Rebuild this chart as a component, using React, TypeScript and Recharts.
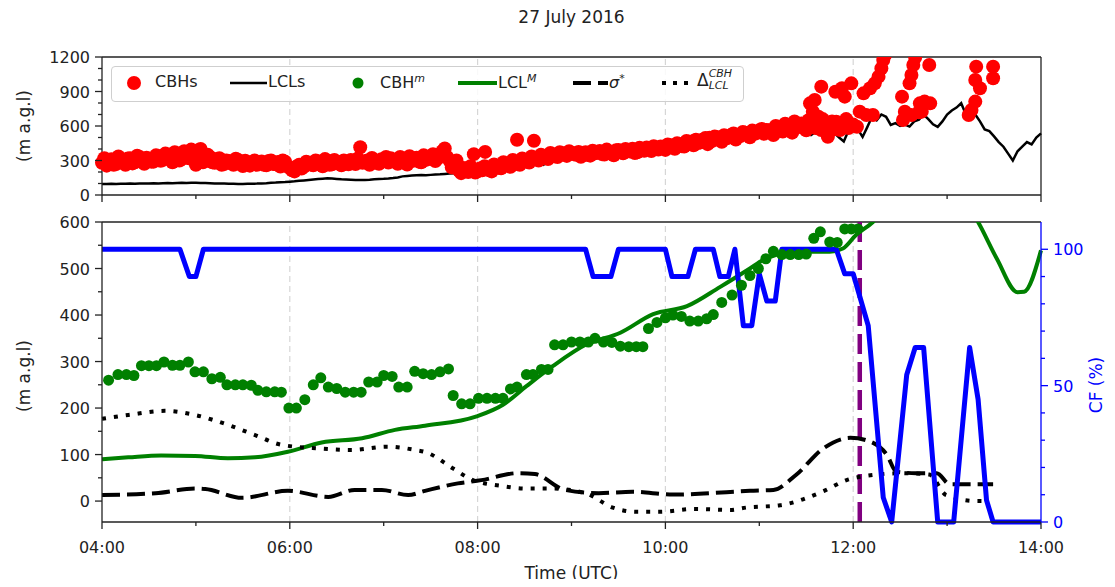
import React from 'react';
import { ComposedChart, Line, Scatter, XAxis, YAxis, ReferenceLine } from 'recharts';

const FONT = '"DejaVu Sans", Verdana, sans-serif';
const INK = '#222';
const BLUE = '#0000ff';
const GREEN = '#008000';

// axis ticks (hours UTC and heights)
const hourTicks = [4, 5, 6, 7, 8, 9, 10, 11, 12, 13, 14];
const gridHours = [6, 8, 10, 12];
const topTicks = [0, 100, 200, 300, 400, 500, 600, 700, 800, 900, 1000, 1100, 1200];
const bottomTicks = [0, 50, 100, 150, 200, 250, 300, 350, 400, 450, 500, 550, 600];
const cfTicks = [0, 10, 20, 30, 40, 50, 60, 70, 80, 90, 100];
const onsetHour = 12.07;

// CBHs: dense band sampled every 3 min from 04:00 to 12:00
const cbhBandStart = 4;
const cbhBandStep = 0.05;
const cbhBand = [
  280, 255, 310, 270, 300, 262, 320, 285, 330, 272, 312,
  290, 340, 305, 332, 285, 350, 312, 345, 395, 262, 400, 305,
  330, 280, 320, 270, 295, 262, 305, 252, 285, 270, 262, 292, 258, 300, 268, 248, 290, 235,
  205, 262, 245, 280, 258, 292, 250, 300, 268, 290, 258, 282, 305, 270, 415, 292, 262, 305, 272, 298,
  282, 305, 272, 315, 265, 295, 325, 285, 305, 335, 295, 350, 405,
  300, 250, 215, 235, 200, 215, 205,
  215, 240, 205, 250, 232, 268, 245, 290, 262, 300, 282, 318, 300, 338, 312, 348, 330, 362, 340, 368,
  350, 332, 372, 342, 362, 382, 352, 372, 345, 392, 362, 382, 402, 372, 392, 412, 382, 402, 422, 392,
  432, 402, 442, 422, 462, 432, 452, 482, 442, 472, 502, 462, 492, 522, 482, 512, 542, 502, 532, 562,
  532, 562, 522, 582, 552, 602, 542, 592, 622, 562, 612, 582, 642, 592, 622, 572, 602, 632, 582, 612,
];
// second row of the band, 1.5 min later
const cbhBand2Start = 4.025;
const cbhBand2 = [
  320, 300, 262, 335, 290, 318, 275, 342, 300, 325, 290,
  345, 298, 360, 310, 372, 300, 380, 320, 360, 390, 285, 350,
  285, 312, 262, 300, 275, 315, 270, 298, 255, 300, 278, 262, 295, 270, 288, 300, 250, 215,
  250, 230, 290, 265, 300, 270, 312, 262, 305, 275, 300, 268, 290, 318, 280, 300, 322, 280, 310, 330,
  320, 288, 330, 300, 338, 310, 290, 345, 312, 355, 320, 380, 330,
  240, 300, 190, 225, 250, 195, 230,
  250, 215, 265, 238, 285, 255, 305, 270, 318, 290, 335, 310, 350, 322, 365, 338, 372, 350, 380, 355,
  375, 360, 348, 385, 370, 355, 395, 368, 390, 372, 400, 378, 365, 410, 385, 400, 425, 395, 410, 440,
  415, 450, 425, 470, 445, 480, 458, 495, 462, 508, 480, 520, 500, 535, 510, 548, 525, 560, 540, 575,
  565, 545, 600, 570, 620, 575, 640, 600, 580, 650, 610, 590, 660, 605, 640, 590, 625, 660, 600,
];
// CBHs: isolated detections [hour, m]
const cbhScattered: [number, number][] = [
  [7.96, 355], [8.08, 375], [8.42, 480], [8.6, 472], [10.3, 470], [10.47, 498],
  [11.54, 797], [11.57, 725], [11.59, 826], [11.63, 681], [11.66, 942], [11.66, 565],
  [11.7, 638], [11.73, 507], [11.81, 898], [11.82, 638], [11.86, 565], [11.88, 928],
  [11.9, 623], [11.91, 855], [11.98, 971],
  [12.04, 594], [12.07, 725], [12.11, 884], [12.14, 696], [12.18, 928], [12.21, 696],
  [12.23, 971], [12.27, 1029], [12.3, 1101], [12.32, 1174], [12.34, 1220],
  [12.52, 855], [12.53, 652], [12.55, 725], [12.6, 971], [12.62, 1043], [12.62, 696],
  [12.64, 1130], [12.66, 1195], [12.7, 720], [12.71, 797], [12.73, 725], [12.76, 812],
  [12.82, 797], [12.81, 1130],
  [13.23, 696], [13.26, 739], [13.3, 812], [13.3, 1000], [13.31, 1116], [13.35, 928],
  [13.49, 1015], [13.49, 1116],
];

// LCLs sampled every 3 min from 04:00 to 14:00
const lclStart = 4;
const lclStep = 0.05;
const lcls = [
  96, 95, 97, 96, 98, 97, 99, 98, 100, 99, 101, 102, 101, 103, 104, 103, 105, 106, 105, 107,
  106, 105, 104, 103, 101, 100, 99, 98, 97, 96, 96, 97, 98, 99, 101, 103, 106, 108, 111, 113,
  116, 119, 123, 127, 131, 135, 139, 142, 145, 143, 140, 137, 135, 133, 131, 130, 131, 133, 136, 139,
  141, 144, 148, 153, 162, 166, 170, 172, 174, 172, 175, 178, 180, 183, 186, 190, 194, 189, 193, 196,
  192, 195, 191, 196, 202, 214, 208, 226, 240, 232, 255, 248, 268, 277, 263, 292, 300, 310, 332, 340,
  334, 345, 336, 341, 330, 346, 337, 342, 350, 358, 370, 378, 385, 398, 392, 406, 400, 414, 420, 412,
  428, 440, 432, 455, 446, 438, 426, 420, 442, 455, 448, 470, 462, 485, 500, 492, 510, 504, 522, 516,
  535, 528, 545, 538, 556, 565, 550, 578, 590, 560, 538, 520, 548, 532, 545, 528, 538, 500, 466, 560,
  615, 570, 505, 590, 680, 650, 700, 680, 610, 625, 600, 612, 595, 640, 655, 700, 660, 615, 592, 640,
  700, 735, 760, 798, 700, 690, 700, 640, 570, 555, 510, 460, 420, 360, 300, 380, 420, 460, 440, 500,
  536,
];

// CBH^m: [hour, m]
const cbhM: [number, number][] = [
  [4.07, 260], [4.17, 272], [4.26, 272], [4.34, 270], [4.42, 291], [4.5, 291], [4.58, 291],
  [4.66, 299], [4.75, 292], [4.83, 292], [4.92, 299], [4.99, 278], [5.08, 278], [5.17, 263],
  [5.26, 266], [5.33, 250], [5.42, 250], [5.5, 250], [5.59, 249], [5.66, 238], [5.75, 235],
  [5.84, 235], [5.91, 234], [5.99, 200], [6.07, 200], [6.16, 218], [6.25, 250], [6.33, 265],
  [6.41, 245], [6.5, 242], [6.59, 234], [6.68, 234], [6.76, 234], [6.84, 256], [6.93, 256],
  [7.0, 270], [7.09, 268], [7.16, 245], [7.25, 245], [7.33, 279], [7.42, 274], [7.51, 272],
  [7.6, 278], [7.69, 284], [7.74, 227], [7.83, 209], [7.92, 209], [8.01, 221], [8.1, 221],
  [8.19, 221], [8.27, 221], [8.35, 241], [8.42, 245], [8.52, 272], [8.59, 272], [8.68, 283],
  [8.75, 283], [8.82, 336], [8.91, 336], [9.0, 342], [9.09, 342], [9.18, 342], [9.25, 350],
  [9.34, 342], [9.43, 341], [9.52, 333], [9.61, 332], [9.69, 332], [9.76, 332], [9.82, 371],
  [9.91, 384], [10.0, 394], [10.08, 400], [10.17, 397], [10.26, 387], [10.35, 387], [10.44, 392],
  [10.51, 401], [10.6, 427], [10.71, 443], [10.81, 464], [10.9, 485], [10.99, 500], [11.07, 521],
  [11.15, 537], [11.24, 530], [11.33, 530], [11.42, 530], [11.5, 531], [11.58, 565], [11.65, 579],
  [11.75, 557], [11.83, 556], [11.91, 585], [11.98, 585], [12.05, 585],
];

// LCL^M: [hour, m]
const lclM: [number, number][] = [
  [4.0, 90], [4.28, 94], [4.63, 98], [4.99, 97], [5.34, 92], [5.63, 94], [5.98, 106],
  [6.34, 126], [6.77, 135], [7.12, 153], [7.44, 162], [7.99, 182], [8.27, 207], [8.52, 247],
  [8.8, 290], [9.16, 337], [9.52, 362], [9.87, 402], [10.23, 419], [10.58, 460], [10.9, 500],
  [11.04, 518], [11.4, 536], [11.75, 536], [11.89, 543], [12.03, 572], [12.21, 600],
  [12.45, 660], [12.8, 700], [13.1, 670], [13.33, 600], [13.53, 521], [13.75, 449],
  [13.82, 450], [14.0, 539],
];

// sigma*: [hour, m]
const sigma: [number, number][] = [
  [4.0, 13], [4.57, 17], [5.0, 27], [5.1, 26], [5.49, 7], [5.98, 22], [6.41, 9], [6.69, 24],
  [6.98, 24], [7.26, 13], [7.44, 22], [7.79, 38], [8.04, 45], [8.43, 60], [8.61, 58], [8.93, 24],
  [9.29, 17], [9.65, 20], [10.08, 14], [10.65, 19], [10.9, 22], [11.15, 24], [11.39, 56],
  [11.68, 113], [11.97, 136], [12.18, 128], [12.36, 99], [12.46, 63], [12.67, 60], [12.89, 60],
  [13.03, 36], [13.49, 36],
];

// Delta LCL CBH: [hour, m]
const delta: [number, number][] = [
  [4.0, 177], [4.28, 185], [4.67, 194], [4.99, 185], [5.34, 164], [5.63, 142], [5.91, 121],
  [6.33, 113], [6.65, 110], [7.04, 117], [7.33, 110], [7.45, 105], [7.74, 70], [7.95, 45],
  [8.24, 33], [8.52, 27], [8.8, 27], [9.16, 16], [9.44, -14], [9.69, -23], [9.94, -23],
  [10.3, -17], [10.69, -19], [10.86, -14], [11.22, -9], [11.68, 21], [11.93, 45], [12.21, 56],
  [12.53, 60], [12.81, 57], [12.99, 13], [13.31, 0], [13.43, 0],
];

// cloud fraction (%): [hour, %]
const cf: [number, number][] = [
  [4.0, 100], [4.83, 100], [4.93, 90], [5.0, 90], [5.08, 100], [9.15, 100], [9.23, 90],
  [9.42, 90], [9.5, 100], [10.0, 100], [10.07, 90], [10.24, 90], [10.32, 100], [10.51, 100],
  [10.58, 90], [10.67, 90], [10.74, 100], [10.83, 72], [10.92, 72], [11.0, 91], [11.08, 81],
  [11.17, 81], [11.24, 100], [11.82, 100], [11.91, 91], [12.0, 91], [12.16, 72], [12.32, 9],
  [12.41, 0], [12.52, 37], [12.57, 54], [12.66, 64], [12.75, 64], [12.9, 0], [13.07, 0],
  [13.24, 64], [13.33, 45], [13.42, 8], [13.49, 0], [14.0, 0],
];

const pairs = (p: [number, number][]) => p.map(([t, v]) => ({ t, v }));
const stepped = (start: number, step: number, vals: number[]) =>
  vals.map((v, i) => ({ t: +(start + i * step).toFixed(3), v }));

const cbhPoints = [
  ...stepped(cbhBandStart, cbhBandStep, cbhBand),
  ...stepped(cbhBand2Start, cbhBandStep, cbhBand2),
  ...pairs(cbhScattered),
];
const lclPoints = stepped(lclStart, lclStep, lcls);

const hh = (h: number) => `${String(h).padStart(2, '0')}:00`;

const makeTick =
  (side: 'bottom' | 'left' | 'right', isMajor: (v: number) => boolean, label: ((v: number) => string) | null, color = INK) =>
  (props: any) => {
    const { x, y, payload } = props;
    const v = payload.value;
    const major = isMajor(v);
    const len = major ? 7 : 4;
    const txt = label && major ? label(v) : null;
    if (side === 'bottom') {
      return (
        <g>
          <line x1={x} x2={x} y1={y} y2={y + len} stroke={color} strokeWidth={1.3} />
          {txt && (
            <text x={x} y={y + 31} textAnchor="middle" fontSize={16} fontFamily={FONT} fill={color}>
              {txt}
            </text>
          )}
        </g>
      );
    }
    const dir = side === 'left' ? -1 : 1;
    return (
      <g>
        <line x1={x} x2={x + dir * len} y1={y} y2={y} stroke={color} strokeWidth={1.3} />
        {txt && (
          <text
            x={x + dir * (len + 5)}
            y={y + 6}
            textAnchor={side === 'left' ? 'end' : 'start'}
            fontSize={16}
            fontFamily={FONT}
            fill={color}
          >
            {txt}
          </text>
        )}
      </g>
    );
  };

const topXTick = makeTick('bottom', (v) => v % 2 === 0, null);
const bottomXTick = makeTick('bottom', (v) => v % 2 === 0, hh);
const topYTick = makeTick('left', (v) => v % 300 === 0, (v) => String(v));
const bottomYTick = makeTick('left', (v) => v % 100 === 0, (v) => String(v));
const cfTick = makeTick('right', (v) => v % 50 === 0, (v) => String(v), BLUE);

const redDot = (p: any) => <circle cx={p.cx} cy={p.cy} r={7} fill="#ff0000" />;
const greenDot = (p: any) => <circle cx={p.cx} cy={p.cy} r={5.5} fill={GREEN} />;

const axisLine = { stroke: INK, strokeWidth: 1.3 };

const Legend = () => {
  const txt: React.CSSProperties = { position: 'absolute', top: 72, fontSize: 16, fontFamily: FONT, color: INK, whiteSpace: 'nowrap' };
  return (
    <>
      <div
        style={{
          position: 'absolute', left: 111, top: 66, width: 631, height: 34,
          border: '1px solid #cfcfcf', borderRadius: 4, background: 'rgba(255,255,255,0.85)',
        }}
      />
      <svg style={{ position: 'absolute', left: 0, top: 0 }} width={1115} height={120}>
        <circle cx={134} cy={83} r={7} fill="#ff0000" />
        <line x1={230} x2={267} y1={83} y2={83} stroke="#000" strokeWidth={2.5} />
        <circle cx={358} cy={83} r={5.5} fill={GREEN} />
        <line x1={458} x2={497} y1={83} y2={83} stroke={GREEN} strokeWidth={4} />
        <line x1={573} x2={608} y1={83} y2={83} stroke="#000" strokeWidth={4} strokeDasharray="18 7" />
        <line x1={662} x2={695} y1={83} y2={83} stroke="#000" strokeWidth={4} strokeDasharray="4 7" />
      </svg>
      <div style={{ ...txt, left: 155 }}>CBHs</div>
      <div style={{ ...txt, left: 268 }}>LCLs</div>
      <div style={{ ...txt, left: 380 }}>
        CBH<sup style={{ fontSize: 11, fontStyle: 'italic' }}>m</sup>
      </div>
      <div style={{ ...txt, left: 498 }}>
        LCL<sup style={{ fontSize: 11, fontStyle: 'italic' }}>M</sup>
      </div>
      <div style={{ ...txt, left: 609 }}>
        <i>σ</i>
        <sup style={{ fontSize: 11 }}>*</sup>
      </div>
      <div style={{ ...txt, left: 697, top: 68, display: 'flex', alignItems: 'center' }}>
        <span style={{ fontSize: 17 }}>Δ</span>
        <span style={{ display: 'inline-flex', flexDirection: 'column', fontSize: 11, fontStyle: 'italic', lineHeight: '12px' }}>
          <span>CBH</span>
          <span>LCL</span>
        </span>
      </div>
    </>
  );
};

const gridLine = { stroke: '#d6d6d6', strokeWidth: 1.2, strokeDasharray: '6 4' };

export default function App() {
  const label: React.CSSProperties = { position: 'absolute', fontFamily: FONT, fontSize: 17, color: INK, whiteSpace: 'nowrap' };
  return (
    <div style={{ position: 'relative', width: 1115, height: 587, margin: -8, background: '#fff', overflow: 'hidden' }}>
      <div style={{ ...label, left: 0, width: 1143, top: 7, textAlign: 'center' }}>27 July 2016</div>

      <div style={{ position: 'absolute', left: 0, top: 0 }}>
        <ComposedChart width={1115} height={222} margin={{ top: 57, right: 74, bottom: 15, left: 42 }}>
          <XAxis
            dataKey="t" type="number" domain={[4, 14]} ticks={hourTicks} interval={0} height={12}
            tick={topXTick} tickLine={false} tickSize={0} tickMargin={0} axisLine={axisLine}
          />
          <YAxis
            type="number" domain={[0, 1200]} ticks={topTicks} interval={0} width={60} allowDataOverflow
            tick={topYTick} tickLine={false} tickSize={0} tickMargin={0} axisLine={axisLine}
          />
          {gridHours.map((h) => (
            <ReferenceLine key={h} x={h} {...gridLine} />
          ))}
          <ReferenceLine x={14} stroke={INK} strokeWidth={1.3} />
          <ReferenceLine y={1200} stroke={INK} strokeWidth={1.3} />
          <Scatter data={cbhPoints} dataKey="v" shape={redDot} isAnimationActive={false} />
          <Line data={lclPoints} dataKey="v" type="linear" stroke="#000" strokeWidth={2.5} dot={false} isAnimationActive={false} />
        </ComposedChart>
      </div>

      <div style={{ position: 'absolute', left: 0, top: 200 }}>
        <ComposedChart width={1115} height={387} margin={{ top: 22, right: 14, bottom: 25, left: 42 }}>
          <XAxis
            dataKey="t" type="number" domain={[4, 14]} ticks={hourTicks} interval={0} height={40}
            tick={bottomXTick} tickLine={false} tickSize={0} tickMargin={0} axisLine={axisLine}
          />
          <YAxis
            yAxisId="left" type="number" domain={[-45, 600]} ticks={bottomTicks} interval={0} width={60} allowDataOverflow
            tick={bottomYTick} tickLine={false} tickSize={0} tickMargin={0} axisLine={axisLine}
          />
          <YAxis
            yAxisId="cf" orientation="right" type="number" domain={[0, 110]} ticks={cfTicks} interval={0} width={60}
            tick={cfTick} tickLine={false} tickSize={0} tickMargin={0} axisLine={{ stroke: BLUE, strokeWidth: 1.3 }}
          />
          {gridHours.map((h) => (
            <ReferenceLine key={h} yAxisId="left" x={h} {...gridLine} />
          ))}
          <ReferenceLine yAxisId="left" y={600} stroke={INK} strokeWidth={1.3} />
          <ReferenceLine yAxisId="left" x={onsetHour} stroke="#800080" strokeWidth={4.5} strokeDasharray="20 8" />
          <Scatter yAxisId="left" data={pairs(cbhM)} dataKey="v" shape={greenDot} isAnimationActive={false} />
          <Line yAxisId="left" data={pairs(lclM)} dataKey="v" type="monotone" stroke={GREEN} strokeWidth={4} dot={false} isAnimationActive={false} />
          <Line yAxisId="left" data={pairs(sigma)} dataKey="v" type="monotone" stroke="#000" strokeWidth={4} strokeDasharray="18 7" dot={false} isAnimationActive={false} />
          <Line yAxisId="left" data={pairs(delta)} dataKey="v" type="monotone" stroke="#000" strokeWidth={4} strokeDasharray="4 8" dot={false} isAnimationActive={false} />
          <Line yAxisId="cf" data={pairs(cf)} dataKey="v" type="linear" stroke={BLUE} strokeWidth={5} strokeLinejoin="round" dot={false} isAnimationActive={false} />
        </ComposedChart>
      </div>

      <Legend />

      <div style={{ ...label, left: 24, top: 126, transform: 'translate(-50%, -50%) rotate(-90deg)' }}>(m a.g.l)</div>
      <div style={{ ...label, left: 24, top: 376, transform: 'translate(-50%, -50%) rotate(-90deg)' }}>(m a.g.l)</div>
      <div style={{ ...label, left: 1096, top: 385, color: BLUE, transform: 'translate(-50%, -50%) rotate(-90deg)' }}>CF (%)</div>
      <div style={{ ...label, left: 0, width: 1143, top: 563, textAlign: 'center' }}>Time (UTC)</div>
    </div>
  );
}
